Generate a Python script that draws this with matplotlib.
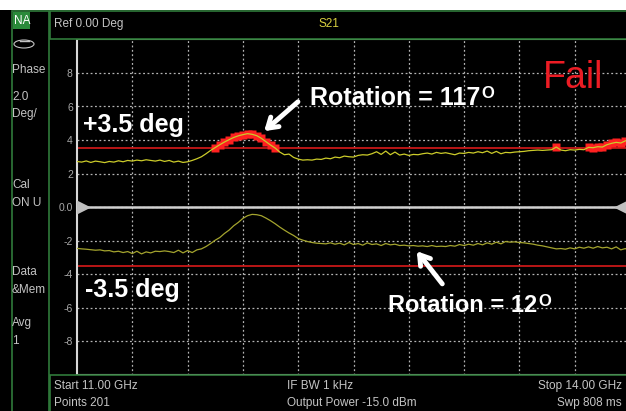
import matplotlib.pyplot as plt
from matplotlib.patches import Rectangle, Ellipse
import numpy as np

#====================================================================================================
# data (phase, deg), 121 points from 11 to 14 GHz

freqGHz = np.linspace(11.0, 14.0, 121)

dataTrace = [
    2.72, 2.68, 2.75, 2.66, 2.74, 2.70, 2.65, 2.72, 2.68, 2.76, 2.70, 2.78, 2.74, 2.80, 2.76, 2.82,
    2.78, 2.74, 2.80, 2.72, 2.78, 2.68, 2.74, 2.66, 2.70,
    2.78, 2.88, 3.00, 3.18, 3.38, 3.55, 3.72, 3.88, 4.02, 4.15, 4.25, 4.32, 4.38, 4.34, 4.26, 4.10,
    3.90, 3.70, 3.52, 3.28, 3.12, 3.16, 2.96, 2.86, 2.80,
    2.82, 2.80, 2.86, 2.84, 2.92, 2.88, 2.98, 2.94, 3.04, 3.00, 2.98, 3.08, 3.12, 3.10, 3.18, 3.30,
    3.14, 3.34, 3.12, 3.28, 3.10, 3.16, 3.08, 3.14, 3.12,
    3.18, 3.22, 3.16, 3.26, 3.20, 3.24, 3.18, 3.12, 3.22, 3.20, 3.26, 3.22, 3.30, 3.24, 3.34, 3.20,
    3.32, 3.18, 3.26, 3.24, 3.28, 3.30, 3.32, 3.36, 3.38,
    3.40, 3.38, 3.40, 3.42, 3.58, 3.40, 3.36, 3.42, 3.40, 3.44, 3.42, 3.56, 3.54, 3.60, 3.58, 3.72,
    3.80, 3.86, 3.82, 3.95, 4.05,
]

memTrace = [
    -2.47, -2.50, -2.52, -2.55, -2.58, -2.56, -2.62, -2.60, -2.68, -2.64, -2.72, -2.66, -2.78, -2.64,
    -2.80, -2.68, -2.74, -2.64, -2.66, -2.62, -2.66, -2.72, -2.58, -2.74, -2.60, -2.72, -2.56, -2.50,
    -2.36, -2.18, -1.98, -1.82, -1.58, -1.38, -1.12, -0.92, -0.68, -0.52, -0.44, -0.46, -0.52, -0.66,
    -0.82, -1.00, -1.20, -1.38, -1.55, -1.70, -1.88, -1.98, -2.06, -2.12, -2.16, -2.18, -2.20,
    -2.14, -2.22, -2.16, -2.26, -2.12, -2.24, -2.18, -2.28, -2.14, -2.24, -2.20, -2.30, -2.18, -2.26,
    -2.22, -2.30, -2.28, -2.32, -2.30, -2.34, -2.32, -2.36, -2.30, -2.36, -2.34,
    -2.36, -2.30, -2.34, -2.24, -2.30, -2.22, -2.28, -2.18, -2.26, -2.14, -2.22, -2.10, -2.20, -2.06,
    -2.10, -2.08, -2.12, -2.14, -2.18, -2.22, -2.28, -2.32, -2.38, -2.44, -2.50,
    -2.48, -2.52, -2.44, -2.50, -2.40, -2.46, -2.38, -2.46, -2.36, -2.44, -2.40, -2.50, -2.38, -2.56,
    -2.48, -2.64,
]

upperLimit = 3.5
lowerLimit = -3.5

yTicks      = [-8, -6, -4, -2, 0, 2, 4, 6, 8]
yTickLabels = ["-8", "-6", "-4", "-2", "0.0", "2", "4", "6", "8"]
xGrid       = [11.3, 11.6, 11.9, 12.2, 12.5, 12.8, 13.1, 13.4, 13.7]

sideLabels  = ["Phase", "2.0", "Deg/", "Cal", "ON U", "Data", "&Mem", "Avg", "1"]
sideY       = [70, 97, 114, 185, 203, 272, 290, 323, 341]

#====================================================================================================

W, H = 626, 411
GREEN = "#2f7a3a"
GREY  = "#c4c4c4"

def fx(x):
    return x / W

def fy(y):
    return 1 - y / H

def main():

    plt.rcParams["font.family"] = ["Liberation Sans", "DejaVu Sans"]

    fig = plt.figure(figsize = (6.26, 4.11), dpi = 100, facecolor = "black")

    # screen frame: white strip on top, side bar, header and footer boxes
    fig.patches.append(Rectangle((0, fy(10)), 1, 1 - fy(10), transform = fig.transFigure,
                                 facecolor = "white", edgecolor = "none"))
    fig.patches.append(Rectangle((fx(12), fy(414)), fx(37), fy(11) - fy(414), transform = fig.transFigure,
                                 facecolor = "black", edgecolor = GREEN, lw = 1.2))
    fig.patches.append(Rectangle((fx(50), fy(39)), 1, fy(11) - fy(39), transform = fig.transFigure,
                                 facecolor = "black", edgecolor = GREEN, lw = 1.2))
    fig.patches.append(Rectangle((fx(50), fy(414)), 1, fy(375) - fy(414), transform = fig.transFigure,
                                 facecolor = "black", edgecolor = GREEN, lw = 1.2))
    fig.patches.append(Rectangle((fx(13), fy(29)), fx(17), fy(12) - fy(29), transform = fig.transFigure,
                                 facecolor = "#2a8a3a", edgecolor = "none"))
    fig.patches.append(Ellipse((fx(24), fy(44)), fx(20), 8 / H, transform = fig.transFigure,
                               facecolor = "none", edgecolor = GREY, lw = 0.8))
    fig.lines.append(plt.Line2D([fx(20), fx(29)], [fy(41), fy(41)], transform = fig.transFigure,
                                color = GREY, lw = 1.0))

    fig.text(fx(14), fy(21), "NA", color = "white", fontsize = 8.5, va = "center")
    for label, y in zip(sideLabels, sideY):
        fig.text(fx(12), fy(y), label, color = GREY, fontsize = 8.5, va = "center")

    fig.text(fx(54), fy(24), "Ref 0.00 Deg", color = GREY, fontsize = 8.5, va = "center")
    fig.text(fx(318), fy(24), "S21", color = "#d8d040", fontsize = 8.5, va = "center")

    fig.text(fx(54), fy(386), "Start 11.00 GHz", color = GREY, fontsize = 8.5, va = "center")
    fig.text(fx(54), fy(403), "Points 201", color = GREY, fontsize = 8.5, va = "center")
    fig.text(fx(287), fy(386), "IF BW 1 kHz", color = GREY, fontsize = 8.5, va = "center")
    fig.text(fx(287), fy(403), "Output Power -15.0 dBm", color = GREY, fontsize = 8.5, va = "center")
    fig.text(fx(622), fy(386), "Stop 14.00 GHz", color = GREY, fontsize = 8.5, va = "center", ha = "right")
    fig.text(fx(622), fy(403), "Swp 808 ms", color = GREY, fontsize = 8.5, va = "center", ha = "right")

    # plot area
    ax = fig.add_axes([fx(77), fy(374.5), 553 / W, (374.5 - 39.5) / H])
    ax.set_facecolor("black")
    ax.set_xlim(11.0, 14.0)
    ax.set_ylim(-10, 10)

    ax.set_xticks(xGrid)
    ax.set_yticks(yTicks)
    ax.set_yticklabels(yTickLabels)
    ax.tick_params(axis = "x", length = 0, labelbottom = False)
    ax.tick_params(axis = "y", length = 0, colors = "#a8a8a8", labelsize = 7.5, pad = 3)
    ax.grid(True, color = "#b4b4b4", linestyle = (0, (1.5, 2)), lw = 0.9)
    ax.set_axisbelow(True)

    ax.spines["left"].set_color("#d8d8d8")
    ax.spines["bottom"].set_color("#d8d8d8")
    ax.spines["top"].set_color("#8cc88c")
    ax.spines["left"].set_linewidth(1.5)
    ax.spines["bottom"].set_linewidth(1.5)
    ax.spines["top"].set_linewidth(1.5)
    ax.spines["right"].set_visible(False)

    # reference line and limit lines
    ax.axhline(0, color = "#d0d0d0", lw = 1.8, zorder = 2)
    ax.plot([11.035], [0], marker = ">", ms = 9, color = "#c0c0c0", clip_on = False, zorder = 3)
    ax.plot([13.95], [0], marker = "<", ms = 9, color = "#c0c0c0", clip_on = False, zorder = 3)
    ax.axhline(upperLimit, color = "#c81818", lw = 1.3, zorder = 2)
    ax.axhline(lowerLimit, color = "#c81818", lw = 1.3, zorder = 2)

    # traces, failing points marked in red
    data = np.array(dataTrace)
    fail = data > upperLimit
    ax.plot(freqGHz[fail], data[fail], "s", color = "#ff2020", ms = 6, mec = "none", zorder = 3)
    ax.plot(freqGHz, data, color = "#cccc2a", lw = 0.9, zorder = 4)
    ax.plot(freqGHz, memTrace, color = "#a4a42e", lw = 0.9, zorder = 4)

    # annotations
    bold = dict(color = "white", fontweight = "bold", va = "baseline", zorder = 6)
    ax.text(11.033, 4.48, "+3.5 deg", fontsize = 18, **bold)
    ax.text(11.043, -5.37, "-3.5 deg", fontsize = 18, **bold)

    t1 = ax.text(12.264, 6.09, "Rotation = 117", fontsize = 18, **bold)
    ax.annotate("O", xy = (1, 1), xycoords = t1, xytext = (1, 0), textcoords = "offset points",
                fontsize = 12, color = "white", fontweight = "bold", va = "top", ha = "left")
    t2 = ax.text(12.687, -6.27, "Rotation = 12", fontsize = 17, **bold)
    ax.annotate("O", xy = (1, 1), xycoords = t2, xytext = (1, 0), textcoords = "offset points",
                fontsize = 12, color = "white", fontweight = "bold", va = "top", ha = "left")

    ax.text(13.528, 7.1, "Fail", fontsize = 27, color = "#ec1c24", va = "baseline", zorder = 6)

    arrow = dict(arrowstyle = "->,head_length=0.7,head_width=0.45", color = "white", lw = 3.5)
    ax.annotate("", xy = (12.004, 4.42), xytext = (12.21, 6.39), arrowprops = arrow, zorder = 6)
    ax.annotate("", xy = (12.834, -2.51), xytext = (12.991, -4.72), arrowprops = arrow, zorder = 6)

    plt.savefig("out.png", dpi = 100, facecolor = fig.get_facecolor())

#====================================================================================================

if __name__ == "__main__":

    main()
